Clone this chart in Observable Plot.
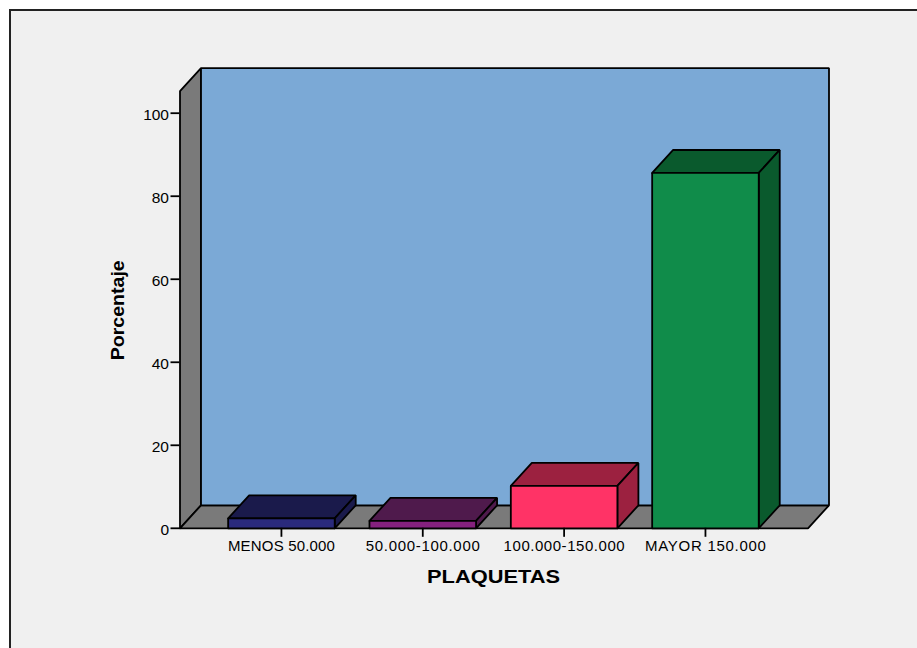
<!DOCTYPE html>
<html lang="es">
<head>
<meta charset="utf-8">
<script src="https://cdn.jsdelivr.net/npm/d3@7"></script>
<script src="https://cdn.jsdelivr.net/npm/@observablehq/plot@0.6"></script>
<style>
html,body{margin:0;padding:0;background:#fff;overflow:hidden}
#frame{position:absolute;left:9px;top:9px;width:908px;height:639px;background:#f0f0f0;border-left:2px solid #222;border-top:2px solid #222;box-sizing:border-box}
#chart{position:absolute;left:0;top:0}
#chart svg{display:block}
</style>
</head>
<body>
<div id="frame"></div>
<div id="chart"></div>
<script>
const categories = ["MENOS 50.000", "50.000-100.000", "100.000-150.000", "MAYOR 150.000"];
const values = [2.4, 1.8, 10.2, 85.6];
const frontColors = ["#2a2a7c", "#85217e", "#ff3366", "#108c4a"];
const shadeColors = ["#1a1a4b", "#4f1a4c", "#9c2140", "#0a5a2d"];
const yTicks = [0, 20, 40, 60, 80, 100];
const wallColor = "#7ba9d6";
const sideColor = "#7a7a7a";

// extents in data units: category index on x, percentage on y
const xMin = -0.7176, xFloorMax = 3.7255;
const depthX = 0.1486, depthY = 5.54;
const halfBar = 0.377, yFrontTop = 105.3;

const faces = [];
const addFace = (id, fill, pts) => pts.concat([pts[0]]).forEach(([x, y]) => faces.push({id, fill, x, y}));

addFace("left", sideColor, [[xMin, 0], [xMin + depthX, depthY], [xMin + depthX, yFrontTop + depthY], [xMin, yFrontTop]]);
addFace("floor", sideColor, [[xMin, 0], [xFloorMax, 0], [xFloorMax + depthX, depthY], [xMin + depthX, depthY]]);
addFace("wall", wallColor, [[xMin + depthX, depthY], [xFloorMax + depthX, depthY], [xFloorMax + depthX, yFrontTop + depthY], [xMin + depthX, yFrontTop + depthY]]);

values.forEach((v, i) => {
  const a = i - halfBar, b = i + halfBar;
  addFace("top" + i, shadeColors[i], [[a, v], [b, v], [b + depthX, v + depthY], [a + depthX, v + depthY]]);
  addFace("side" + i, shadeColors[i], [[b, 0], [b + depthX, depthY], [b + depthX, v + depthY], [b, v]]);
  addFace("front" + i, frontColors[i], [[a, 0], [b, 0], [b, v], [a, v]]);
});

const chart = Plot.plot({
  width: 917,
  height: 648,
  marginLeft: 179.5,
  marginRight: 88.5,
  marginTop: 67.7,
  marginBottom: 120.2,
  style: {background: "transparent", fontFamily: "'Liberation Sans', Arial, sans-serif", color: "#000"},
  x: {domain: [xMin, xFloorMax + depthX], label: null},
  y: {domain: [0, yFrontTop + depthY], label: null},
  color: {type: "identity"},
  marks: [
    Plot.line(faces, {x: "x", y: "y", z: "id", fill: "fill", stroke: "#000", strokeWidth: 1.8, strokeLinejoin: "miter"}),
    Plot.axisY({ticks: yTicks, tickSize: 9, tickPadding: 2, fontSize: 15.5, strokeWidth: 1.8, stroke: "#000", label: null, textStroke: "none", tickFormat: d => String(d)}),
    Plot.axisX({ticks: categories.map((_, i) => i), tickSize: 9, tickPadding: 3, fontSize: 15, strokeWidth: 1.8, stroke: "#000", label: null, tickFormat: i => categories[i]}),
    Plot.text(["Porcentaje"], {frameAnchor: "left", dx: -62, dy: 62, rotate: -90, fontSize: 19, fontWeight: "bold", text: d => d}),
    Plot.text(["PLAQUETAS"], {frameAnchor: "bottom", dx: -11, dy: 55, fontSize: 19, fontWeight: "bold", text: d => d})
  ]
});
document.getElementById("chart").appendChild(chart);

// stretch the titles and category labels to the widths they have in the reference
const stretch = {
  "PLAQUETAS": 133, "Porcentaje": 100,
  "MENOS 50.000": 107, "50.000-100.000": 114, "100.000-150.000": 121, "MAYOR 150.000": 121
};
chart.querySelectorAll("text").forEach(t => {
  const w = stretch[t.textContent];
  if (w) { t.setAttribute("textLength", w); t.setAttribute("lengthAdjust", "spacing"); }
  if (t.textContent === "PLAQUETAS" || t.textContent === "Porcentaje") t.setAttribute("lengthAdjust", "spacingAndGlyphs");
  if (yTicks.map(String).includes(t.textContent)) t.setAttribute("dy", "1.4");
});
</script>
</body>
</html>
